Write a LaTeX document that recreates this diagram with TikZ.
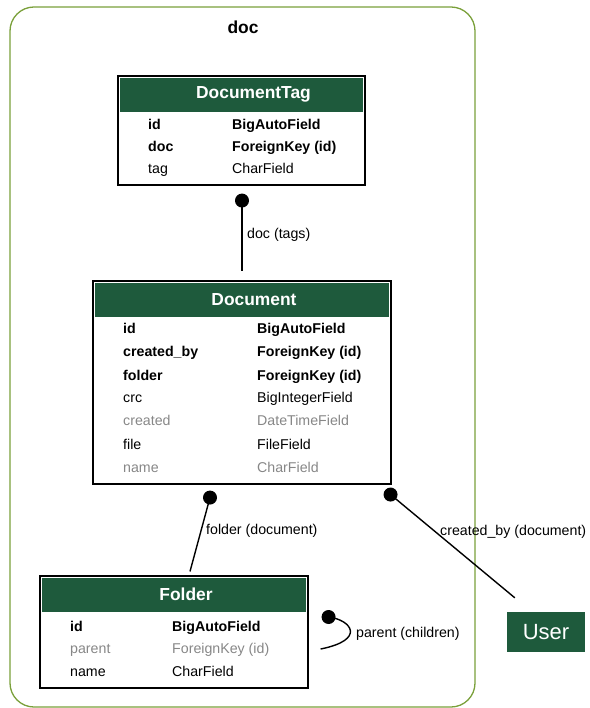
\documentclass[tikz,border=0pt]{standalone}
\usepackage{fontspec}
\setmainfont{Liberation Sans}
\usepackage{tikz}
\usetikzlibrary{calc}
\definecolor{hdrgreen}{RGB}{30,90,60}
\definecolor{clustergreen}{RGB}{122,160,58}
\definecolor{nullgray}{RGB}{135,135,135}
\tikzset{
	tblbox/.style={shape=rectangle,draw=black,line width=1.1pt,inner sep=0},
	hdr/.style={shape=rectangle,fill=hdrgreen,inner sep=0},
	hdrtext/.style={text=white,inner sep=0,font=\fontsize{17.4}{19}\selectfont\bfseries},
	keytext/.style={anchor=base west,inner sep=0,font=\fontsize{14.2}{16}\selectfont\bfseries},
	fieldtext/.style={anchor=base west,inner sep=0,font=\fontsize{14.2}{16}\selectfont},
	nulltext/.style={anchor=base west,inner sep=0,text=nullgray,font=\fontsize{14.2}{16}\selectfont},
	reldot/.style={shape=circle,fill=black,inner sep=0,minimum size=14pt},
	rel/.style={draw=black,line width=1.4pt},
	lbl/.style={anchor=base west,inner sep=0,font=\fontsize{14.2}{16}\selectfont}
}
% table frame with green title bar: center, name, width, height, title
\newcommand{\drawmodel}[5]{
	\node (#2) [tblbox,minimum width=#3pt,minimum height=#4pt] at #1 {};
	\node (#2-hd) [hdr,minimum width=#3pt-4pt,minimum height=34pt,anchor=north] at ($(#2.north)+(0,2)$) {};
	\node (#2-title) [hdrtext] at ($(#2-hd.center)+(12,0)$) {#5};
}

\begin{document}
\begin{tikzpicture}[x=1pt,y=-1pt]
	\useasboundingbox (0,0) rectangle (589,708);
	% app cluster
	\draw[clustergreen,line width=1.3pt,rounded corners=24pt] (10,7) rectangle (475,707);
	\node (app) [inner sep=0,anchor=base,font=\fontsize{17.4}{19}\selectfont\bfseries] at (243,34) {doc};

	\drawmodel{(241.5,130.5)}{tag}{247}{109}{DocumentTag}
	\foreach \y/\f/\t/\s [count=\n] in {125/id/BigAutoField/keytext,147/doc/ForeignKey (id)/keytext,169/tag/CharField/fieldtext} {
		\node (tag-f\n) [\s] at (148,\y+5) {\f};
		\node (tag-t\n) [\s] at (232,\y+5) {\t};
	}

	\drawmodel{(242,382.5)}{document}{298}{203}{Document}
	\foreach \y/\f/\t/\s [count=\n] in {328/id/BigAutoField/keytext,351/created\_by/ForeignKey (id)/keytext,375/folder/ForeignKey (id)/keytext,397/crc/BigIntegerField/fieldtext,420/created/DateTimeField/nulltext,444/file/FileField/fieldtext,467/name/CharField/nulltext} {
		\node (document-f\n) [\s] at (123,\y+5) {\f};
		\node (document-t\n) [\s] at (257,\y+5) {\t};
	}

	\drawmodel{(174,632)}{folder}{268}{112}{Folder}
	\foreach \y/\f/\t/\s [count=\n] in {626/id/BigAutoField/keytext,648/parent/ForeignKey (id)/nulltext,671/name/CharField/fieldtext} {
		\node (folder-f\n) [\s] at (70,\y+5) {\f};
		\node (folder-t\n) [\s] at (172,\y+5) {\t};
	}

	\node (user) [shape=rectangle,fill=hdrgreen,text=white,minimum width=78pt,minimum height=40pt,inner sep=0,font=\fontsize{22}{24}\selectfont] at (546,632) {User};

	% relations
	\node (tagdot) [reldot] at ($(tag.south)+(0.5,15)$) {};
	\coordinate (tagend) at ($(document.north)+(0,-9)$);
	\draw[rel] (tagdot.center) -- (tagend);
	\node (tagrel) [lbl] at (247,239) {doc (tags)};

	\node (folderdot) [reldot] at ($(document.south)+(-32,13)$) {};
	\coordinate (folderend) at ($(folder.north)+(16,-4)$);
	\draw[rel] (folderdot.center) -- (folderend);
	\node (folderrel) [lbl] at (206,534) {folder (document)};

	\node (userdot) [reldot] at ($(document.south east)+(-1,10)$) {};
	\coordinate (userend) at ($(user.north west)+(8,-14)$);
	\draw[rel] (userdot.center) -- (userend);
	\node (userrel) [lbl] at (440,535) {created\_by (document)};

	\node (parentdot) [reldot] at ($(folder.east)+(20,-15)$) {};
	\coordinate (parentend) at ($(folder.east)+(12,17)$);
	\draw[rel] (parentdot.center) .. controls (352,620) and (366,640) .. (parentend);
	\node (parentrel) [lbl] at (356,637) {parent (children)};
\end{tikzpicture}
\end{document}
